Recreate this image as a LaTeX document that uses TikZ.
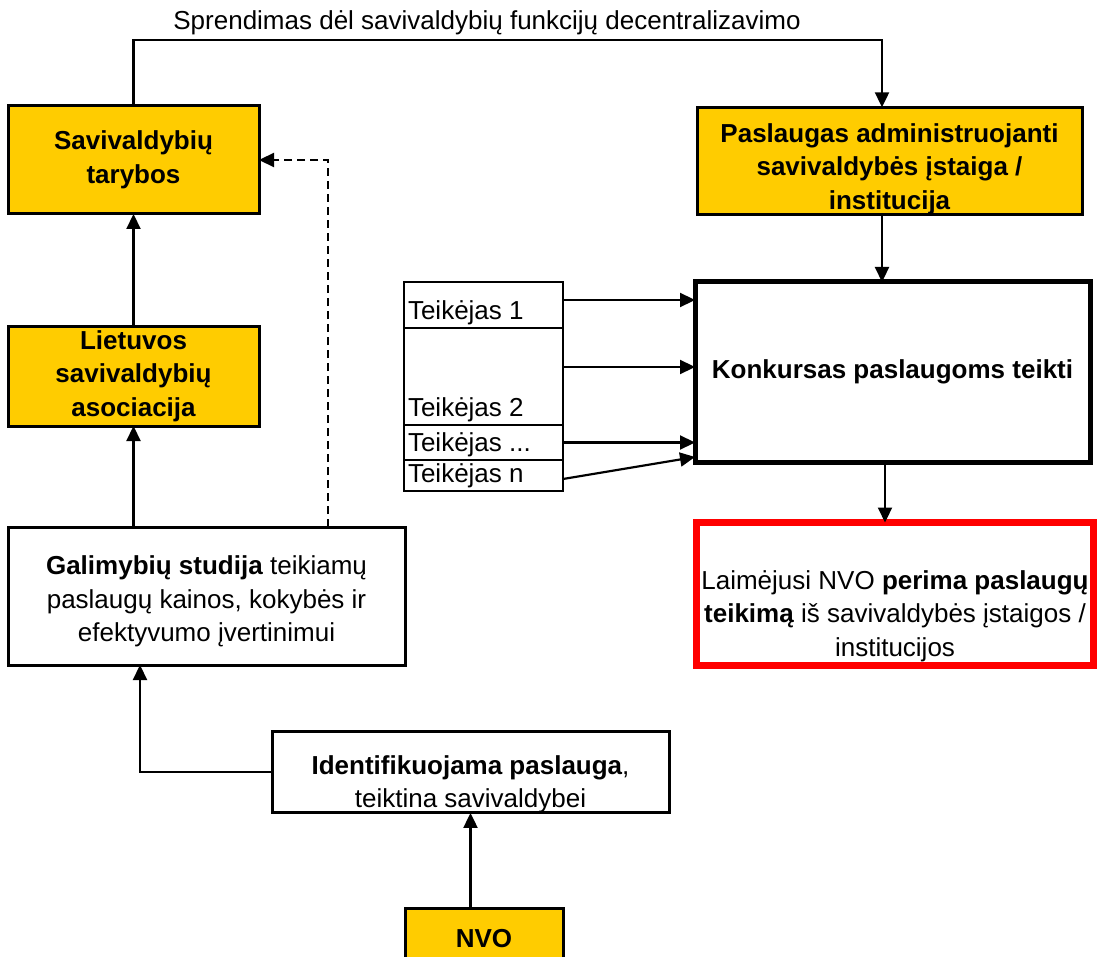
\documentclass[tikz,border=0pt]{standalone}
\usepackage{fontspec}
\setmainfont{Liberation Sans}
\usetikzlibrary{arrows.meta}
\definecolor{gold}{HTML}{FFCC00}
\definecolor{redb}{HTML}{FF0000}
\begin{document}
\begin{tikzpicture}[x=1pt,y=-1pt,
  every node/.style={font=\fontsize{26}{33.5}\selectfont, inner sep=0pt, outer sep=0pt},
  box/.style={draw=black, line width=3pt, align=center},
  gbox/.style={box, fill=gold, font=\fontsize{26}{33.5}\selectfont\bfseries},
  tbox/.style={draw=black, line width=2.8pt, minimum width=159pt},
  tlab/.style={anchor=south west, inner sep=3pt, xshift=1pt},
  conn/.style={line width=2.2pt, -{Triangle[length=15pt,width=14pt]}},
  dconn/.style={conn, dash pattern=on 8pt off 5pt}]
\useasboundingbox (0,0) rectangle (1099,957);
% nodes
\node[gbox, minimum width=251pt, minimum height=108pt] (tar) at (133.5,160) {Savivaldybių\\tarybos};
\node[gbox, minimum width=385pt, minimum height=106pt] (pas) at (889.5,161) {\rule{0pt}{35pt}Paslaugas administruojanti\\savivaldybės įstaiga /\\institucija};
\node[box, line width=5pt, minimum width=395pt, minimum height=180pt, font=\fontsize{26}{33.5}\selectfont\bfseries] (kon) at (892.5,372) {Konkursas paslaugoms teikti};
\node[box, draw=redb, line width=7pt, minimum width=397pt, minimum height=143pt] (win) at (895,594) {\rule{0pt}{63pt}Laimėjusi NVO \textbf{perima paslaugų}\\\textbf{teikimą} iš savivaldybės įstaigos /\\institucijos};
\node[gbox, minimum width=251pt, minimum height=100pt] (las) at (133.5,376) {Lietuvos\\savivaldybių\\asociacija};
\node[box, minimum width=397pt, minimum height=138pt] (gal) at (206.5,596) {\rule{0pt}{30pt}\textbf{Galimybių studija} teikiamų\\paslaugų kainos, kokybės ir\\efektyvumo įvertinimui};
\node[box, minimum width=397pt, minimum height=78pt] (idf) at (470.5,772) {\rule{0pt}{43pt}\textbf{Identifikuojama paslauga},\\teiktina savivaldybei};
\node[gbox, minimum width=158pt, minimum height=62pt] (nvo) at (484,939) {NVO};
% Teikejas stack
\node[tbox, minimum height=46pt, label={[tlab]south west:Teikėjas 1}] (t1) at (483.5,305) {};
\node[tbox, minimum height=97pt, label={[tlab]south west:Teikėjas 2}] (t2) at (483.5,376.5) {};
\node[tbox, minimum height=35pt, label={[tlab]south west:Teikėjas ...}] (t3) at (483.5,442.5) {};
\node[tbox, minimum height=31pt, label={[tlab]south west:Teikėjas n}] (t4) at (483.5,475.5) {};
% top label
\node (lbl) at (487,23) {Sprendimas dėl savivaldybių funkcijų decentralizavimo};
\coordinate (topy) at (0,40);
\coordinate (dx) at (328,0);
\coordinate (gx) at (140,0);
\coordinate (px) at (882,0);
\coordinate (kx) at (885,0);
\coordinate (a1) at ([yshift=5pt]t1.east);
\coordinate (a2) at ([yshift=9.5pt]t2.east);
\coordinate (a4) at ([yshift=-3.5pt]t4.east);
\coordinate (k4) at ([yshift=5pt]kon.south west);
% connectors
\draw[conn] (tar.north) -- (tar.north |- topy) -| (px |- pas.north);
\draw[conn] (px |- pas.south) -- (px |- kon.north);
\draw[conn] (kx |- kon.south) -- (kx |- win.north);
\draw[conn] (a1) -- (kon.west |- a1);
\draw[conn] (a2) -- (kon.west |- a2);
\draw[conn] (t3.east) -- (kon.west |- t3.east);
\draw[conn] (a4) -- (k4);
\draw[conn] (las.north) -- (tar.south);
\draw[conn] (las.south |- gal.north) -- (las.south);
\draw[dconn] (dx |- gal.north) |- (tar.east);
\draw[conn] (idf.west) -| (gx |- gal.south);
\draw[conn] (idf.south |- nvo.north) -- (idf.south);
\end{tikzpicture}
\end{document}
